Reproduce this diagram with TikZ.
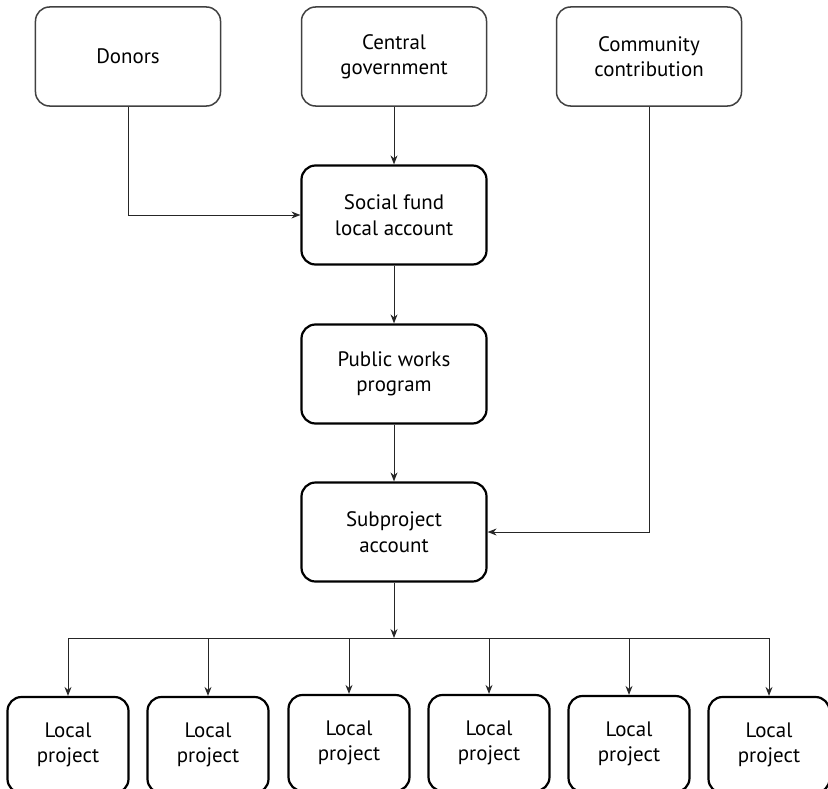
\documentclass[tikz,border=0pt]{standalone}
\usepackage{fontspec}
\setmainfont{PT Sans}
\usetikzlibrary{arrows.meta}

\tikzset{
  topbox/.style={draw=black!75,line width=1.5bp,rounded corners=14bp,
    minimum width=185bp,minimum height=99bp,align=center,
    font=\fontsize{21}{25.5}\selectfont},
  midbox/.style={topbox,draw=black,line width=2.2bp},
  leafbox/.style={midbox,minimum width=121bp,minimum height=96bp},
  flow/.style={line width=1bp,draw=black!85}
}

\begin{document}
\begin{tikzpicture}[x=1bp,y=-1bp,>={Stealth[length=9bp,width=7bp]}]
    \useasboundingbox (0,0) rectangle (828,789);
    % sources
    \node[topbox] (donors) at (128,56.5) {Donors};
    \node[topbox] (central) at (394,56.5) {Central\\government};
    \node[topbox] (community) at (649,56.5) {Community\\contribution};
    % main chain
    \node[midbox] (social) at (394,215) {Social fund\\local account};
    \node[midbox] (public) at (394,374) {Public works\\program};
    \node[midbox] (sub) at (394,532) {Subproject\\account};
    % local projects
    \foreach \i/\px/\py in {1/68/745,2/208/745,3/349/743,4/489/743,5/629/744,6/769/745}
      \node[leafbox] (local\i) at (\px,\py) {Local\\project};
    \coordinate (split) at (394,638);

    \draw[flow,->] (central) -- (social);
    \draw[flow,->] (donors.south) |- (social.west);
    \draw[flow,->] (social) -- (public);
    \draw[flow,->] (public) -- (sub);
    \draw[flow,->] (community.south) |- (sub.east);
    \draw[flow,->] (sub) -- (split);
    \draw[flow] (local1 |- split) -- (local6 |- split);
    \foreach \i in {1,...,6}
      \draw[flow,->] (local\i |- split) -- (local\i.north);
\end{tikzpicture}
\end{document}
